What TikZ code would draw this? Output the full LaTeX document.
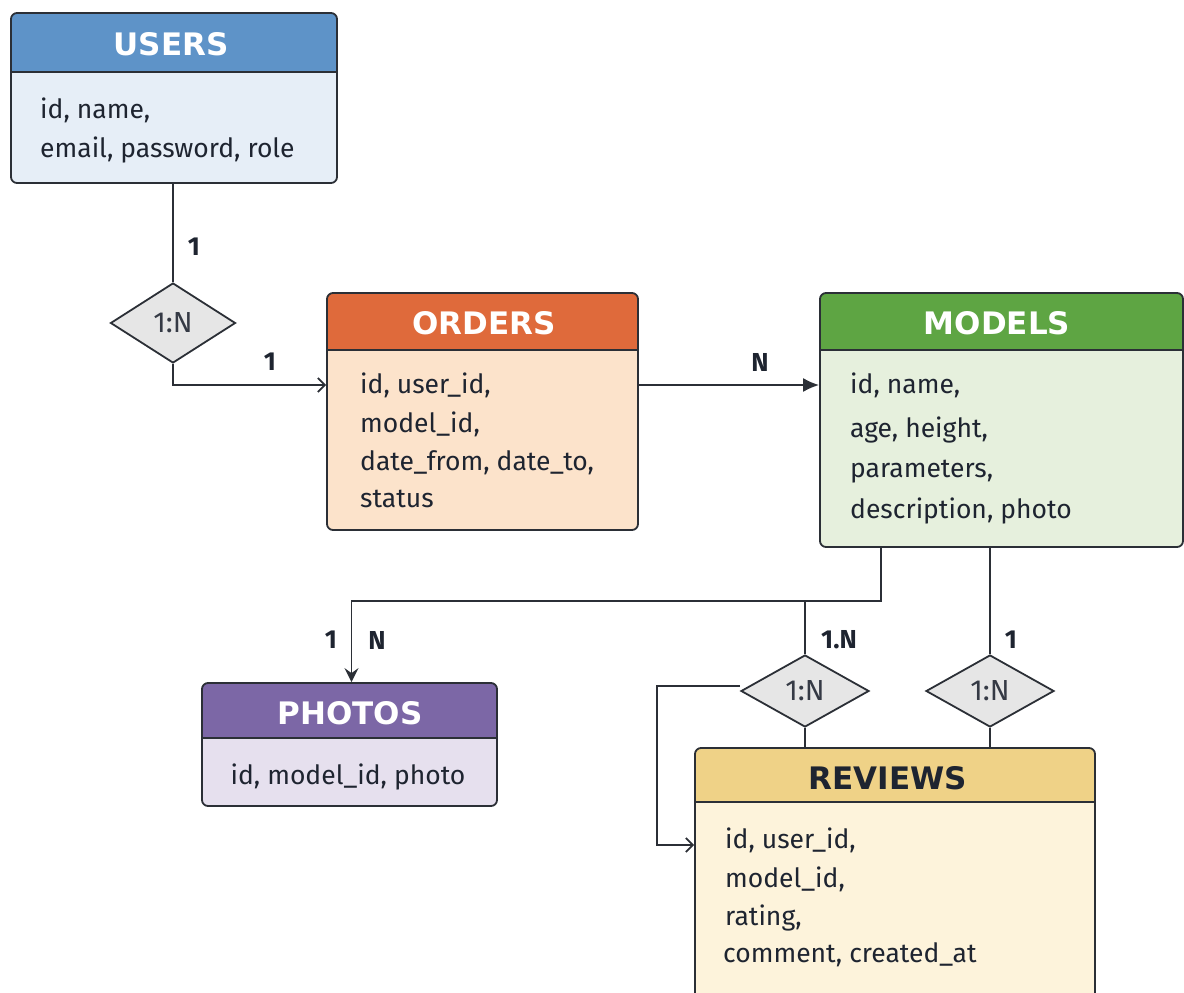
\documentclass[tikz,border=0pt]{standalone}
\usepackage{fontspec}
\setmainfont{Fira Sans}
\newfontfamily\titlefont{DejaVu Sans}
\usetikzlibrary{shapes.geometric,arrows.meta,fit}
\definecolor{ink}{HTML}{1E2430}
\definecolor{line}{HTML}{2B2F36}
\definecolor{uhead}{HTML}{5E93C8}
\definecolor{ubody}{HTML}{E6EEF7}
\definecolor{ohead}{HTML}{DF6A3B}
\definecolor{obody}{HTML}{FCE3CB}
\definecolor{mhead}{HTML}{5EA543}
\definecolor{mbody}{HTML}{E6F0DD}
\definecolor{phead}{HTML}{7C67A6}
\definecolor{pbody}{HTML}{E6E0EE}
\definecolor{rhead}{HTML}{EFD287}
\definecolor{rbody}{HTML}{FDF3DB}
\definecolor{dfill}{HTML}{E6E6E6}
\tikzset{
  border/.style={draw=line, line width=1.8pt},
  conn/.style={draw=line, line width=1.8pt},
  title/.style={font=\titlefont\fontsize{31}{34}\selectfont\bfseries, text=white, inner sep=0pt},
  field/.style={font=\fontsize{26.5}{30}\selectfont, text=ink, anchor=base west, inner sep=0pt},
  card/.style={font=\fontsize{26}{28}\selectfont\bfseries, text=ink, inner sep=0pt},
  rel/.style={diamond, draw=line, line width=1.8pt, fill=dfill, inner sep=0pt,
     font=\fontsize{29}{30}\selectfont, text=ink!90},
  openarr/.style={-{Straight Barb[length=7pt,width=14pt,line width=1.8pt]}},
  fillarr/.style={-{Latex[length=16pt,width=14pt]}},
}
% #1 name, #2 x1, #3 y1, #4 x2, #5 y2, #6 header bottom, #7 head colour, #8 body colour
\newcommand\erbox[8]{%
  \fill[#8, rounded corners=6pt] (#2,#3) rectangle (#4,#5);
  \fill[#7] (#2,#6) [rounded corners=6pt] -- (#2,#3) -- (#4,#3) [sharp corners] -- (#4,#6) -- cycle;
  \draw[border] (#2,#6) -- (#4,#6);
  \node[fit={(#2,#3) (#4,#5)}, inner sep=0pt, border, rounded corners=6pt] (#1) {};
}
\begin{document}
\begin{tikzpicture}[x=1pt,y=-1pt]
\useasboundingbox (0,0) rectangle (1184,993);
\clip (0,0) rectangle (1184,993);

% tables
\erbox{users}{11}{13}{337}{183}{72}{uhead}{ubody}
\node[title] (usersT) at (171,44) {USERS};
\node[field] (u1) at (40,118) {id, name,};
\node[field] (u2) at (40,157) {email, password, role};

\erbox{orders}{327}{293}{638}{530}{350}{ohead}{obody}
\node[title] (ordersT) at (484,323) {ORDERS};
\node[field] (o1) at (360,393) {id, user\_id,};
\node[field] (o2) at (360,432) {model\_id,};
\node[field] (o3) at (360,470) {date\_from, date\_to,};
\node[field] (o4) at (360,507) {status};

\erbox{models}{820}{293}{1183}{547}{350}{mhead}{mbody}
\node[title] (modelsT) at (997,323) {MODELS};
\node[field] (m1) at (850,393) {id, name,};
\node[field] (m2) at (850,437) {age, height,};
\node[field] (m3) at (850,477) {parameters,};
\node[field] (m4) at (850,518) {description, photo};

\erbox{photos}{202}{683}{497}{806}{738}{phead}{pbody}
\node[title] (photosT) at (350,713) {PHOTOS};
\node[field, anchor=base] (p1) at (348,784) {id, model\_id, photo};

\erbox{reviews}{695}{748}{1095}{1010}{802}{rhead}{rbody}
\node[title, text=ink] (reviewsT) at (888,778) {REVIEWS};
\node[field] (r1) at (725,848) {id, user\_id,};
\node[field] (r2) at (725,887) {model\_id,};
\node[field] (r3) at (725,925) {rating,};
\node[field] (r4) at (723,962) {comment, created\_at};

% relationship diamonds
\node[rel, minimum width=125pt, minimum height=80pt] (d1) at (173,323) {1:N};
\node[rel, minimum width=128pt, minimum height=72pt] (d2) at (805,691) {1:N};
\node[rel, minimum width=128pt, minimum height=72pt] (d3) at (990,691) {1:N};

% split points
\coordinate (split) at (881,601);
\coordinate (loop) at (657,686);

% connectors
\draw[conn] (d1.north |- users.south) -- (d1.north);
\draw[conn, openarr] (d1.south) |- ([yshift=26.5pt]orders.west);
\draw[conn, fillarr] ([yshift=26.5pt]orders.east) coordinate (om) -- (om -| models.west);
\draw[conn] (split |- models.south) -- (split) -| ([xshift=2pt,yshift=60pt]photos.north);
\draw[conn, -{Stealth[length=14pt,width=14pt,inset=5pt]}] ([xshift=2pt,yshift=62pt]photos.north) -- ([xshift=2pt]photos.north);
\draw[conn] (d2.north |- split) -- (d2.north);
\draw[conn] (d2.south) -- (d2.south |- reviews.north);
\draw[conn] (d3.north |- models.south) -- (d3.north);
\draw[conn] (d3.south) -- (d3.south |- reviews.north);
\draw[conn, openarr] (d2.west |- loop) -- (loop) |- ([yshift=34pt]reviews.west);

% cardinality labels
\node[card] (c1) at (194,247) {1};
\node[card] (c2) at (270,362) {1};
\node[card] (c3) at (760,362) {N};
\node[card] (c4) at (331,640) {1};
\node[card] (c5) at (377,640) {N};
\node[card] (c6) at (839,640) {1.N};
\node[card] (c7) at (1011,640) {1};
\end{tikzpicture}
\end{document}
